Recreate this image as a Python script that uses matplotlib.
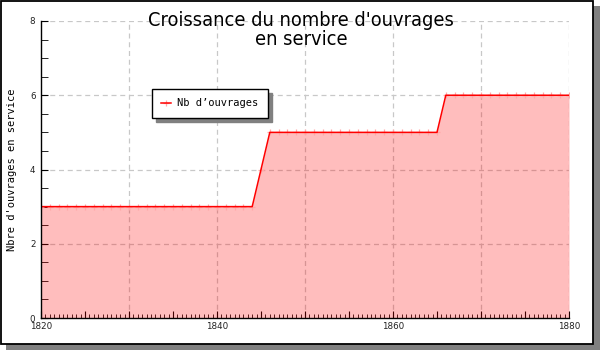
import matplotlib as mpl
import matplotlib.pyplot as plt
from matplotlib.patches import Rectangle

years = list(range(1820, 1881))
ouvrages = [3, 3, 3, 3, 3, 3, 3, 3, 3, 3,
            3, 3, 3, 3, 3, 3, 3, 3, 3, 3,
            3, 3, 3, 3, 3, 4, 5, 5, 5, 5,
            5, 5, 5, 5, 5, 5, 5, 5, 5, 5,
            5, 5, 5, 5, 5, 5, 6, 6, 6, 6,
            6, 6, 6, 6, 6, 6, 6, 6, 6, 6,
            6]
xlabels = [1820, 1840, 1860, 1880]
ylabels = [0, 2, 4, 6, 8]

W, H = 600, 350
fig = plt.figure(figsize=(6, 3.5), dpi=100, facecolor='white')

# frame with drop shadow
fig.patches.append(Rectangle((6 / W, 0), 594 / W, 344 / H, transform=fig.transFigure,
                             facecolor='#808080', edgecolor='none', zorder=0))
fig.patches.append(Rectangle((1 / W, 6 / H), 592 / W, 343 / H, transform=fig.transFigure,
                             facecolor='white', edgecolor='black', lw=1.3, zorder=0.5))

ax = fig.add_axes([41 / W, (H - 318) / H, 528 / W, 297 / H])
ax.set_zorder(2)
ax.set_facecolor('none')
ax.set_xlim(1820, 1880)
ax.set_ylim(0, 8)

for s in ('top', 'right'):
    ax.spines[s].set_visible(False)
for s in ('left', 'bottom'):
    ax.spines[s].set_linewidth(1.0)
    ax.spines[s].set_zorder(6)

grid_kw = dict(color='#c8c8c8', lw=0.9, dashes=(4, 3), zorder=1)
for y in ylabels[1:]:
    ax.axhline(y, **grid_kw)
for x in range(1830, 1881, 10):
    ax.axvline(x, **grid_kw)

ax.fill_between(years, ouvrages, 0, color='red', alpha=0.26, lw=0, zorder=2)
mk, = ax.plot(years, ouvrages, ls='none', marker='+', ms=4.5, mew=0.9,
              color='#ffa8a8', zorder=3)
ln, = ax.plot(years, ouvrages, color='red', lw=1.1, zorder=4)

ax.xaxis.set_major_locator(mpl.ticker.MultipleLocator(5))
ax.xaxis.set_minor_locator(mpl.ticker.MultipleLocator(0.5))
ax.xaxis.set_major_formatter(mpl.ticker.FuncFormatter(
    lambda v, p: '%d' % v if int(round(v)) in xlabels else ''))
ax.yaxis.set_major_locator(mpl.ticker.FixedLocator(ylabels))
ax.yaxis.set_minor_locator(mpl.ticker.MultipleLocator(0.5))

ax.tick_params(axis='both', which='both', direction='in', color='black',
               labelsize=6.3, labelcolor='#222222')
ax.tick_params(axis='x', which='major', length=5, pad=3)
ax.tick_params(axis='x', which='minor', length=3)
ax.tick_params(axis='y', which='both', length=5, pad=4)

ax.set_ylabel("Nbre d'ouvrages en service", family='DejaVu Sans Mono',
              fontsize=7.5, labelpad=0)
ax.yaxis.set_label_coords(-24 / 528, 0.5)

fig.text(301 / W, 1 - 30 / H, "Croissance du nombre d'ouvrages\nen service",
         ha='center', va='center', fontsize=14.3, linespacing=0.95,
         family='DejaVu Sans', stretch='condensed', zorder=5)

leg = ax.legend([(mk, ln)], ["Nb d\u2019ouvrages"], loc='upper left',
                bbox_to_anchor=(152 / W, 1 - 89 / H), bbox_transform=fig.transFigure,
                borderaxespad=0, fancybox=False,
                shadow={'color': '#808080', 'alpha': 1, 'ox': 3, 'oy': -3},
                framealpha=1, edgecolor='black', handlelength=0.9,
                prop={'family': 'DejaVu Sans Mono', 'size': 7.5},
                borderpad=0.9, handletextpad=0.6)
leg.get_frame().set_linewidth(1.0)

plt.savefig('out.png', dpi=100)
